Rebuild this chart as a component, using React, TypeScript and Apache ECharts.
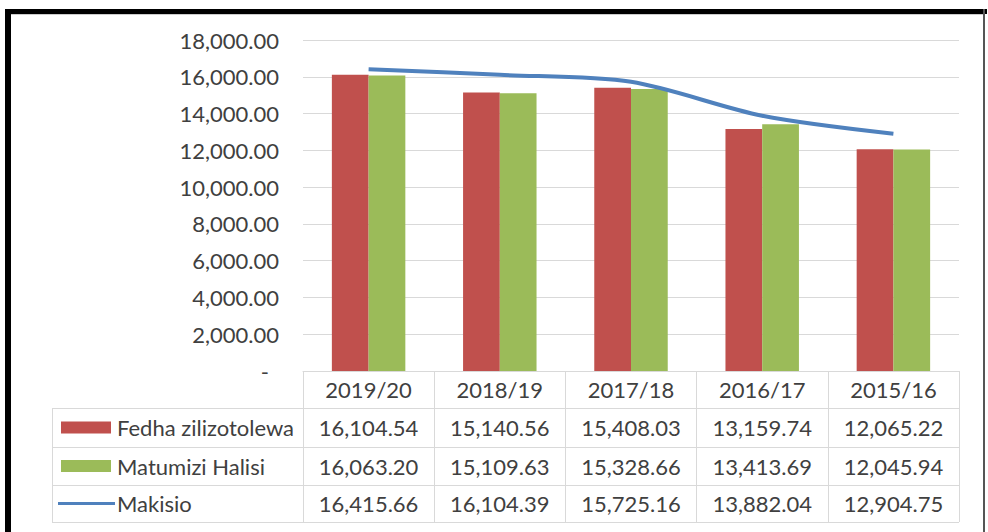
import React, { useEffect, useRef } from "react";
import * as echarts from "echarts";

const categories = ["2019/20", "2018/19", "2017/18", "2016/17", "2015/16"];
const seriesNames = ["Fedha zilizotolewa", "Matumizi Halisi", "Makisio"];
const fedha = [16104.54, 15140.56, 15408.03, 13159.74, 12065.22];
const matumizi = [16063.2, 15109.63, 15328.66, 13413.69, 12045.94];
const makisio = [16415.66, 16104.39, 15725.16, 13882.04, 12904.75];
const yMin = 0;
const yMax = 18000;
const yInterval = 2000;

const RED = "#C0504D";
const GREEN = "#9BBB59";
const BLUE = "#4F81BD";
const TEXT = "#404040";
const LINE = "#d9d9d9";
const FONT = "Lato";
const FS = 22;

const fmt = (v: number) =>
  v.toLocaleString("en-US", { minimumFractionDigits: 2, maximumFractionDigits: 2 });

export default function App() {
  const ref = useRef<HTMLDivElement>(null);
  useEffect(() => {
    if (!ref.current) return;
    const chart = echarts.init(ref.current, undefined, { renderer: "svg" });

    const W = 988;
    const gridLeft = 303;
    const gridRight = 29;
    const gridTop = 40;
    const axisY = 371;
    const gridBottom = 532 - axisY;
    const tableRight = W - gridRight;
    const tableLeft = 52;
    const colW = (tableRight - gridLeft) / categories.length;
    const rowLines = [408, 447, 485, 522];
    const rows = [
      { name: seriesNames[0], values: fedha, key: "rect", color: RED },
      { name: seriesNames[1], values: matumizi, key: "rect", color: GREEN },
      { name: seriesNames[2], values: makisio, key: "line", color: BLUE },
    ];

    const graphic: any[] = [];
    // outer frame
    graphic.push({ type: "rect", shape: { x: 5, y: 9, width: 982, height: 5 }, style: { fill: "#000" }, silent: true });
    graphic.push({ type: "rect", shape: { x: 5, y: 9, width: 6, height: 523 }, style: { fill: "#000" }, silent: true });
    graphic.push({ type: "rect", shape: { x: 983, y: 9, width: 2, height: 523 }, style: { fill: "#555" }, silent: true });
    graphic.push({ type: "line", shape: { x1: 11, y1: 14.5, x2: 983, y2: 14.5 }, style: { stroke: "#ccc", lineWidth: 1 }, silent: true });

    // table horizontal lines
    rowLines.forEach((y) => {
      graphic.push({
        type: "line",
        shape: { x1: tableLeft, y1: y + 0.5, x2: tableRight, y2: y + 0.5 },
        style: { stroke: LINE, lineWidth: 1 },
        silent: true,
      });
    });
    graphic.push({
      type: "line",
      shape: { x1: tableLeft + 0.5, y1: rowLines[0], x2: tableLeft + 0.5, y2: rowLines[3] },
      style: { stroke: LINE, lineWidth: 1 },
      silent: true,
    });

    rows.forEach((r, ri) => {
      const yc = (rowLines[ri] + rowLines[ri + 1]) / 2;
      if (r.key === "rect") {
        graphic.push({ type: "rect", shape: { x: 61, y: yc - 6, width: 50, height: 12 }, style: { fill: r.color }, silent: true });
      } else {
        graphic.push({ type: "line", shape: { x1: 58, y1: yc, x2: 115, y2: yc }, style: { stroke: r.color, lineWidth: 3 }, silent: true });
      }
      graphic.push({
        type: "text",
        x: 117,
        y: yc,
        style: { text: r.name, fill: TEXT, font: `${FS}px ${FONT}`, textAlign: "left", textVerticalAlign: "middle" },
        silent: true,
      });
      r.values.forEach((v, ci) => {
        graphic.push({
          type: "text",
          x: gridLeft + (ci + 0.5) * colW,
          y: yc,
          style: { text: fmt(v), fill: TEXT, font: `${FS}px ${FONT}`, textAlign: "center", textVerticalAlign: "middle" },
          silent: true,
        });
      });
    });

    chart.setOption({
      animation: false,
      backgroundColor: "#fff",
      textStyle: { fontFamily: FONT },
      grid: { left: gridLeft, right: gridRight, top: gridTop, bottom: gridBottom, containLabel: false },
      xAxis: {
        type: "category",
        data: categories,
        axisLine: { show: true, lineStyle: { color: LINE, width: 1 } },
        axisTick: { show: true, length: rowLines[3] - axisY, lineStyle: { color: LINE, width: 1 } },
        axisLabel: {
          color: TEXT,
          fontSize: FS,
          fontFamily: FONT,
          margin: 0,
          lineHeight: rowLines[0] - axisY,
          verticalAlign: "top",
        },
      },
      yAxis: {
        type: "value",
        min: yMin,
        max: yMax,
        interval: yInterval,
        axisLine: { show: false },
        axisTick: { show: false },
        splitLine: { show: true, lineStyle: { color: LINE, width: 1 } },
        axisLabel: {
          color: TEXT,
          fontSize: FS,
          fontFamily: FONT,
          margin: 24,
          formatter: (v: number) => (v === 0 ? "{d|-}" : fmt(v)),
          rich: { d: { fontSize: FS, fontFamily: FONT, color: TEXT, padding: [0, 10, 0, 0] } },
        },
      },
      series: [
        {
          name: seriesNames[0],
          type: "bar",
          data: fedha,
          itemStyle: { color: RED },
          barGap: "0%",
          barCategoryGap: "44%",
        },
        {
          name: seriesNames[1],
          type: "bar",
          data: matumizi,
          itemStyle: { color: GREEN },
          barGap: "0%",
          barCategoryGap: "44%",
        },
        {
          name: seriesNames[2],
          type: "line",
          data: makisio,
          smooth: 0.3,
          showSymbol: false,
          symbol: "none",
          lineStyle: { color: BLUE, width: 4 },
          itemStyle: { color: BLUE },
          z: 5,
        },
      ],
      graphic,
    });
    return () => chart.dispose();
  }, []);
  return <div ref={ref} style={{ position: "fixed", left: 0, top: 0, width: 988, height: 532 }} />;
}
